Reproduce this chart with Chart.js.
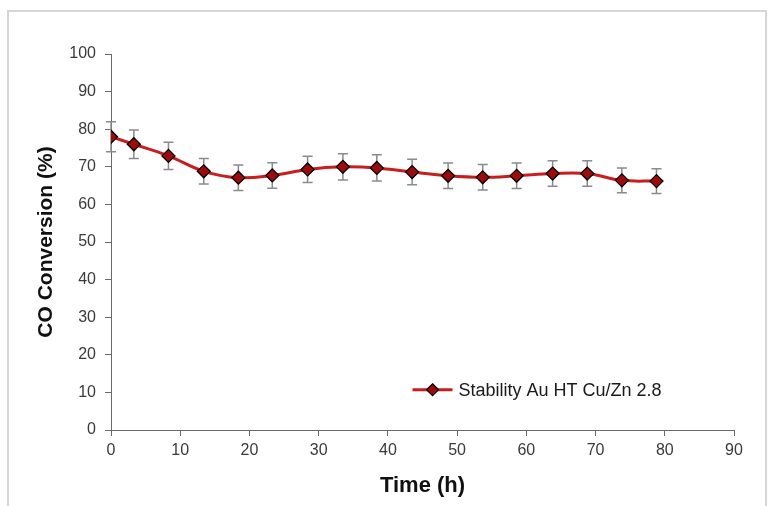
<!DOCTYPE html>
<html>
<head>
<meta charset="utf-8">
<script src="https://cdn.jsdelivr.net/npm/chart.js@4.4.1/dist/chart.umd.min.js"></script>
<style>
  html, body { margin: 0; padding: 0; background: #ffffff; }
  #wrap { width: 768px; height: 506px; position: relative; }
</style>
</head>
<body>
<div id="wrap"><canvas id="c" width="768" height="506"></canvas></div>
<script>
// ---- data ----
const timeHours = [0, 3.3, 8.3, 13.4, 18.4, 23.3, 28.4, 33.5, 38.4, 43.5, 48.7, 53.7, 58.6, 63.8, 68.8, 73.8, 78.8];
const coConversion = [78.0, 76.0, 72.9, 68.8, 67.1, 67.7, 69.3, 70.0, 69.7, 68.6, 67.6, 67.2, 67.6, 68.2, 68.2, 66.4, 66.2];
const errorPlusMinus = [4.0, 3.8, 3.6, 3.4, 3.4, 3.4, 3.5, 3.5, 3.5, 3.4, 3.4, 3.4, 3.4, 3.4, 3.4, 3.3, 3.3];
const seriesLabel = 'Stability Au HT Cu/Zn 2.8';
const xTitle = 'Time (h)';
const yTitle = 'CO Conversion (%)';
const xRange = [0, 90];
const yRange = [0, 100];
const tickStep = 10;

const lineRed = '#c81e1e';
const markerFill = '#a00a0a';
const axisGray = '#6a6a6a';
const tickFont = { family: "'Liberation Sans', Arial, sans-serif", size: 16 };

const frameAndBg = {
  id: 'frameAndBg',
  beforeDraw(chart) {
    const ctx = chart.ctx;
    ctx.save();
    ctx.fillStyle = '#ffffff';
    ctx.fillRect(0, 0, chart.width, chart.height);
    ctx.strokeStyle = '#d6d6d6';
    ctx.lineWidth = 2;
    ctx.strokeRect(8, 11, chart.width - 10, chart.height + 10);
    ctx.restore();
  }
};

const errorBars = {
  id: 'errorBars',
  beforeDatasetsDraw(chart) {
    const ctx = chart.ctx;
    const xs = chart.scales.x, ys = chart.scales.y;
    ctx.save();
    ctx.strokeStyle = '#8a8a8a';
    ctx.lineWidth = 1.5;
    const cap = 5;
    timeHours.forEach((t, i) => {
      const x = xs.getPixelForValue(t);
      const yTop = ys.getPixelForValue(coConversion[i] + errorPlusMinus[i]);
      const yBot = ys.getPixelForValue(coConversion[i] - errorPlusMinus[i]);
      ctx.beginPath();
      ctx.moveTo(x, yTop); ctx.lineTo(x, yBot);
      ctx.moveTo(x - cap, yTop); ctx.lineTo(x + cap, yTop);
      ctx.moveTo(x - cap, yBot); ctx.lineTo(x + cap, yBot);
      ctx.stroke();
    });
    ctx.restore();
  }
};

const insideLegend = {
  id: 'insideLegend',
  afterDraw(chart) {
    const ctx = chart.ctx;
    const a = chart.chartArea;
    const x0 = a.left + (a.right - a.left) * 0.484;
    const y0 = a.top + (a.bottom - a.top) * 0.893;
    ctx.save();
    ctx.strokeStyle = lineRed;
    ctx.lineWidth = 3;
    ctx.beginPath();
    ctx.moveTo(x0, y0); ctx.lineTo(x0 + 40, y0);
    ctx.stroke();
    const cx = x0 + 20, r = 6;
    ctx.beginPath();
    ctx.moveTo(cx, y0 - r); ctx.lineTo(cx + r, y0); ctx.lineTo(cx, y0 + r); ctx.lineTo(cx - r, y0); ctx.closePath();
    ctx.fillStyle = markerFill; ctx.fill();
    ctx.strokeStyle = '#000'; ctx.lineWidth = 1.2; ctx.stroke();
    ctx.fillStyle = '#1a1a1a';
    ctx.font = "18px 'Liberation Sans', Arial, sans-serif";
    ctx.textBaseline = 'middle';
    ctx.textAlign = 'left';
    ctx.fillText(seriesLabel, x0 + 46, y0 + 1);
    ctx.restore();
  }
};

new Chart(document.getElementById('c'), {
  type: 'line',
  data: {
    datasets: [{
      label: seriesLabel,
      data: timeHours.map((t, i) => ({ x: t, y: coConversion[i] })),
      borderColor: lineRed,
      borderWidth: 3,
      tension: 0.4,
      fill: false,
      pointStyle: 'rectRot',
      pointRadius: 6.5,
      pointHoverRadius: 6.5,
      pointBackgroundColor: markerFill,
      pointBorderColor: '#000000',
      pointBorderWidth: 1.3
    }]
  },
  options: {
    responsive: false,
    animation: false,
    events: [],
    layout: { padding: { left: 0, right: 34, top: 54, bottom: 0 } },
    plugins: { legend: { display: false }, tooltip: { enabled: false } },
    scales: {
      x: {
        type: 'linear',
        min: xRange[0], max: xRange[1],
        afterFit(s) { s.height = 76; },
        ticks: { stepSize: tickStep, color: '#3a3a3a', font: tickFont, padding: 5, maxRotation: 0 },
        grid: { drawOnChartArea: false, drawTicks: true, tickLength: 6, color: axisGray, lineWidth: 1 },
        border: { display: true, color: axisGray, width: 1 },
        title: {
          display: true, text: xTitle, color: '#111',
          font: { family: "'Liberation Sans', Arial, sans-serif", size: 22, weight: 'bold' },
          padding: { top: 0, bottom: 7 }
        }
      },
      y: {
        type: 'linear',
        min: yRange[0], max: yRange[1],
        afterFit(s) { s.width = 111; },
        ticks: { stepSize: tickStep, color: '#3a3a3a', font: tickFont, padding: 9 },
        grid: { drawOnChartArea: false, drawTicks: true, tickLength: 6, color: axisGray, lineWidth: 1 },
        border: { display: true, color: axisGray, width: 1 },
        title: {
          display: true, text: yTitle, color: '#111',
          font: { family: "'Liberation Sans', Arial, sans-serif", size: 21, weight: 'bold' },
          padding: { top: 34, bottom: 0 }
        }
      }
    }
  },
  plugins: [frameAndBg, errorBars, insideLegend]
});
</script>
</body>
</html>
